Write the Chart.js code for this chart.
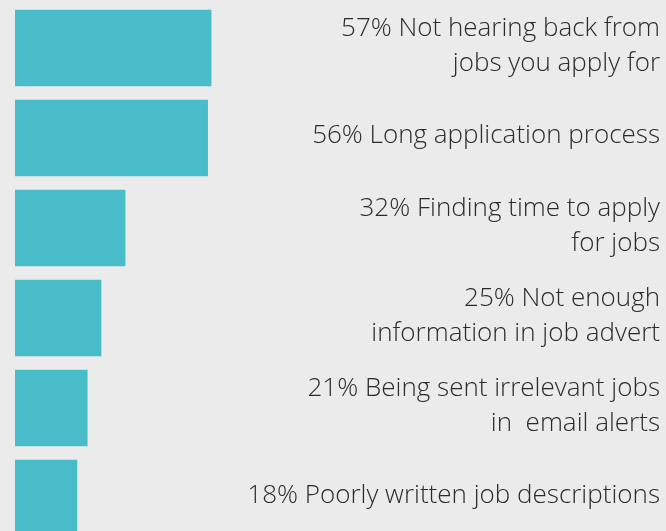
<!DOCTYPE html>
<html>
<head>
<meta charset="utf-8">
<script src="https://cdn.jsdelivr.net/npm/chart.js@4"></script>
<style>
  html, body { margin: 0; padding: 0; background: #ebebeb; overflow: hidden; }
  #wrap { position: absolute; left: 0; top: 0; width: 666px; height: 546px; }
</style>
</head>
<body>
<div id="wrap"><canvas id="c"></canvas></div>
<script>
const categories = [
  ["57% Not hearing back from", "jobs you apply for"],
  ["56% Long application process"],
  ["32% Finding time to apply", "for jobs"],
  ["25% Not enough", "information in job advert"],
  ["21% Being sent irrelevant jobs", "in  email alerts"],
  ["18% Poorly written job descriptions"]
];
const values = [57, 56, 32, 25, 21, 18];

const labelPlugin = {
  id: 'rightLabels',
  afterDraw(chart) {
    const ctx = chart.ctx;
    const y = chart.scales.y;
    ctx.save();
    ctx.font = '300 26px "Open Sans", Lato, sans-serif';
    ctx.fillStyle = '#2b2b2b';
    ctx.textAlign = 'right';
    ctx.textBaseline = 'middle';
    const lh = 35;
    categories.forEach((lines, i) => {
      const cy = y.getPixelForValue(i);
      const start = cy - (lines.length - 1) * lh / 2 - 2;
      lines.forEach((t, j) => ctx.fillText(t, 660, start + j * lh));
    });
    ctx.restore();
  }
};

new Chart(document.getElementById('c'), {
  type: 'bar',
  data: {
    labels: categories.map(l => l.join(' ')),
    datasets: [{
      data: values,
      backgroundColor: '#48bdc9',
      barThickness: 76
    }]
  },
  options: {
    indexAxis: 'y',
    responsive: true,
    maintainAspectRatio: false,
    animation: false,
    layout: { padding: { left: 15, right: 307, top: 3, bottom: 3 } },
    plugins: { legend: { display: false }, tooltip: { enabled: false } },
    scales: {
      x: { display: false, min: 0, max: 100 },
      y: { display: false }
    }
  },
  plugins: [labelPlugin]
});
</script>
</body>
</html>
